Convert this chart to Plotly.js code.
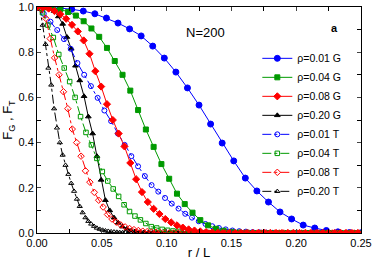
<!DOCTYPE html>
<html><head><meta charset="utf-8">
<script src="https://cdn.plot.ly/plotly-3.0.1.min.js"></script>
<style>html,body{margin:0;padding:0;background:#fff}#c{width:374px;height:260px}</style>
</head><body><div id="c"></div>
<script>
// Series names
const seriesNames = ["ρ=0.01 G","ρ=0.04 G","ρ=0.08 G","ρ=0.20 G","ρ=0.01 T","ρ=0.04 T","ρ=0.08 T","ρ=0.20 T"];
// r/L sampling step of each series (points start at r/L = 0)
const rStart = 0;
const rStepBlueG = 0.00893, rStepGreenG = 0.006, rStepRedG = 0.0045, rStepBlackG = 0.0033;
const rStepBlueT = 0.0052, rStepGreenT = 0.0042, rStepRedT = 0.0034, rStepBlackT = 0.0022;
// F values
const blueG = [1.0,0.999,0.995,0.99,0.982,0.970,0.951,0.929,0.903,0.872,0.827,0.774,0.712,0.642,0.566,0.482,0.398,0.319,0.243,0.186,0.137,0.093,0.062,0.035,0.022,0.011,0.005,0.002,0.001];
const greenG = [1.0,0.999,0.997,0.99,0.978,0.962,0.937,0.905,0.868,0.819,0.761,0.700,0.630,0.544,0.458,0.381,0.305,0.240,0.174,0.128,0.090,0.057,0.034,0.019,0.010,0.005,0.002,0.001,0,0,0,0,0,0,0,0,0,0,0,0,0,0];
const redG = [1.0,0.998,0.993,0.982,0.968,0.948,0.921,0.892,0.852,0.793,0.716,0.648,0.570,0.500,0.440,0.383,0.310,0.238,0.181,0.137,0.107,0.084,0.062,0.047,0.034,0.024,0.016,0.011,0.007,0.004,0.002,0.001,0,0,0,0,0,0,0,0,0,0,0,0,0,0,0,0,0,0,0,0,0,0,0,0];
const blackG = [1.0,0.999,0.997,0.993,0.982,0.958,0.925,0.867,0.815,0.740,0.675,0.605,0.515,0.440,0.340,0.235,0.145,0.100,0.068,0.045,0.028,0.018,0.010,0.006,0.003,0.002,0.001,0,0,0,0,0,0,0,0,0,0,0,0,0,0,0,0,0,0,0,0,0,0,0,0,0,0,0,0,0,0,0,0,0,0,0,0,0,0,0,0,0,0,0,0,0,0,0,0,0];
const blueT = [1.0,0.97,0.935,0.898,0.858,0.815,0.752,0.70,0.65,0.598,0.542,0.495,0.44,0.39,0.34,0.295,0.252,0.212,0.183,0.155,0.13,0.108,0.085,0.068,0.052,0.04,0.03,0.022,0.016,0.011,0.008,0.006,0.004,0.003,0.002,0.001,0,0,0,0,0,0,0,0,0,0,0,0,0];
const greenT = [1.0,0.975,0.92,0.865,0.79,0.73,0.67,0.60,0.515,0.445,0.39,0.33,0.272,0.23,0.195,0.162,0.125,0.095,0.075,0.058,0.042,0.028,0.022,0.016,0.012,0.009,0.007,0.005,0.004,0.003,0.002,0.001,0,0,0,0,0,0,0,0,0,0,0,0,0,0,0,0,0,0,0,0,0,0,0,0,0,0,0,0];
const redT = [1.0,0.99,0.95,0.86,0.775,0.70,0.625,0.55,0.46,0.40,0.34,0.275,0.225,0.18,0.145,0.115,0.082,0.062,0.048,0.036,0.027,0.02,0.015,0.011,0.008,0.006,0.004,0.003,0.002,0.001,0,0,0,0,0,0,0,0,0,0,0,0,0,0,0,0,0,0,0,0,0,0,0,0,0,0,0,0,0,0,0,0,0,0,0,0,0,0,0,0,0,0,0,0];
const blackT = [1.0,0.99,0.92,0.835,0.73,0.655,0.55,0.465,0.40,0.345,0.30,0.26,0.22,0.185,0.15,0.118,0.09,0.068,0.052,0.04,0.03,0.022,0.017,0.013,0.01,0.008,0.006,0.005,0.004,0.003,0.002,0.002,0.001,0.001,0,0,0,0,0,0,0,0,0,0,0,0,0,0,0,0,0,0,0,0,0,0,0,0,0,0,0,0,0,0,0,0,0,0,0,0,0,0,0,0,0,0,0,0,0,0,0,0,0,0,0,0,0,0,0,0,0,0,0,0,0,0,0,0,0,0,0,0,0,0,0,0,0,0,0,0,0,0,0,0];
// tick labels
const xTicks = [0, 0.05, 0.10, 0.15, 0.20, 0.25];
const xTickText = ["0.00","0.05","0.10","0.15","0.20","0.25"];
const yTicks = [0, 0.2, 0.4, 0.6, 0.8, 1.0];
const yTickText = ["0.0","0.2","0.4","0.6","0.8","1.0"];

const BLUE = "#0000ff", GREEN = "#009a00", RED = "#ff0000", BLACK = "#000000";
function tr(name, y, dx, color, symbol, dash, size, rank) {
  return {
    type: "scatter", mode: "lines+markers", name: name,
    y: y, x0: rStart, dx: dx,
    line: {color: color, width: 1, dash: dash},
    marker: {symbol: symbol, size: size, color: color, line: {color: color, width: 1}},
    legendrank: rank, cliponaxis: true
  };
}
const data = [
  tr(seriesNames[7], blackT, rStepBlackT, BLACK, "triangle-up-open", "dashdot", 4.5, 8),
  tr(seriesNames[3], blackG, rStepBlackG, BLACK, "triangle-up", "solid", 5, 4),
  tr(seriesNames[4], blueT, rStepBlueT, BLUE, "circle-open", "dashdot", 5, 5),
  tr(seriesNames[0], blueG, rStepBlueG, BLUE, "circle", "solid", 6, 1),
  tr(seriesNames[5], greenT, rStepGreenT, GREEN, "square-open", "dashdot", 4.5, 6),
  tr(seriesNames[1], greenG, rStepGreenG, GREEN, "square", "solid", 5, 2),
  tr(seriesNames[6], redT, rStepRedT, RED, "diamond-open", "dashdot", 5, 7),
  tr(seriesNames[2], redG, rStepRedG, RED, "diamond", "solid", 5.5, 3)
];
const layout = {
  width: 374, height: 260,
  margin: {l: 37, r: 13, t: 7, b: 27},
  paper_bgcolor: "#fff", plot_bgcolor: "#fff",
  font: {family: "Liberation Sans, Arial, sans-serif", size: 11, color: "#000"},
  showlegend: true,
  legend: {x: 0.68, y: 0.837, xanchor: "left", yanchor: "top", bgcolor: "rgba(0,0,0,0)",
           font: {size: 10.5}, itemwidth: 30, tracegroupgap: 0, traceorder: "normal"},
  xaxis: {range: [0, 0.25], tickvals: xTicks, ticktext: xTickText, ticks: "inside", ticklen: 4,
          showline: true, linecolor: "#000", linewidth: 1, mirror: "ticks", showgrid: false, zeroline: false,
          minor: {dtick: 0.025, ticks: "inside", ticklen: 4, tickcolor: "#000"},
          title: {text: "r / L", font: {size: 13}, standoff: 2}},
  yaxis: {range: [0, 1.0], tickvals: yTicks, ticktext: yTickText, ticks: "inside", ticklen: 4,
          showline: true, linecolor: "#000", linewidth: 1, mirror: "ticks", showgrid: false, zeroline: false,
          minor: {dtick: 0.1, ticks: "inside", ticklen: 4, tickcolor: "#000"},
          title: {text: "F<sub>G</sub> , F<sub>T</sub>", font: {size: 13}, standoff: 4}},
  annotations: [
    {text: "N=200", xref: "paper", yref: "paper", x: 0.454, y: 0.885, xanchor: "left", yanchor: "middle", showarrow: false, font: {size: 13}},
    {text: "<b>a</b>", xref: "paper", yref: "paper", x: 0.902, y: 0.907, xanchor: "left", yanchor: "middle", showarrow: false, font: {size: 11}}
  ]
};
Plotly.newPlot("c", data, layout, {staticPlot: true, displayModeBar: false});
</script></body></html>
